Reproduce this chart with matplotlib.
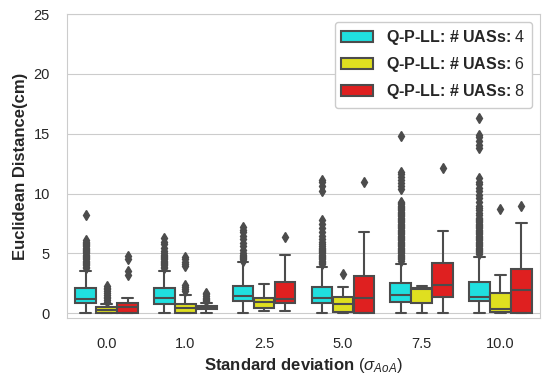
import matplotlib
matplotlib.use("Agg")
import matplotlib.pyplot as plt
import seaborn as sns
from matplotlib.patches import Patch

# x categories and hue levels
sigma_levels = ['0.0', '1.0', '2.5', '5.0', '7.5', '10.0']
uas_counts = [4, 6, 8]
box_colors = ['#20dfdf', '#dfdf20', '#df2020']

# box statistics, one list per number of UASs
med_4 = [1.19, 1.30, 1.44, 1.32, 1.55, 1.33]
q1_4 = [0.88, 0.82, 0.99, 0.85, 0.96, 1.05]
q3_4 = [2.11, 2.08, 2.28, 2.20, 2.50, 2.58]
lo_4 = [0.0, 0.0, 0.0, 0.0, 0.0, 0.0]
hi_4 = [3.50, 3.56, 4.25, 3.84, 4.12, 4.67]

med_6 = [0.27, 0.44, 0.96, 0.77, 2.00, 0.35]
q1_6 = [0.03, 0.03, 0.46, 0.15, 0.85, 0.15]
q3_6 = [0.54, 0.77, 1.32, 1.38, 2.10, 1.74]
lo_6 = [0.0, 0.0, 0.23, 0.0, 0.0, 0.0]
hi_6 = [0.82, 1.55, 2.44, 2.16, 2.25, 3.20]

med_8 = [0.57, 0.50, 1.19, 1.32, 2.36, 1.97]
q1_8 = [0.07, 0.35, 0.90, 0.02, 1.38, 0.07]
q3_8 = [0.85, 0.65, 2.64, 3.08, 4.17, 3.70]
lo_8 = [0.0, 0.05, 0.20, 0.0, 0.0, 0.0]
hi_8 = [1.27, 0.85, 4.87, 6.77, 6.90, 7.55]

# outliers
fl_4 = [
    [3.8, 3.9, 4.0, 4.1, 4.2, 4.3, 4.4, 4.5, 4.6, 4.7, 4.8, 4.9, 5.0, 5.1,
     5.2, 5.3, 5.4, 5.5, 5.6, 5.7, 5.8, 5.9, 6.0, 6.1, 8.25],
    [3.8, 3.9, 4.0, 4.1, 4.2, 4.3, 4.4, 4.5, 4.6, 4.7, 4.8, 4.9, 5.0,
     5.2, 5.5, 5.8, 6.0, 6.3],
    [4.4, 4.5, 4.6, 4.7, 4.8, 4.9, 5.0, 5.3, 5.6, 5.9, 6.2, 6.5, 6.8,
     7.0, 7.25],
    [4.1, 4.2, 4.3, 4.4, 4.5, 4.6, 4.7, 4.8, 4.9, 5.0, 5.1, 5.2, 5.3, 5.4,
     5.5, 5.6, 5.8, 6.0, 6.2, 6.5, 6.8, 7.1, 7.5, 7.8, 10.2, 10.6, 11.0,
     11.15],
    [4.35, 4.5, 4.6, 4.7, 4.8, 4.9, 5.0, 5.1, 5.2, 5.3, 5.4, 5.5, 5.6, 5.7,
     5.8, 5.9, 6.0, 6.1, 6.2, 6.3, 6.4, 6.5, 6.6, 6.7, 6.8, 6.9, 7.0, 7.1,
     7.2, 7.3, 7.4, 7.5, 7.6, 7.7, 7.8, 7.9, 8.0, 8.1, 8.2, 8.3, 8.4, 8.5,
     8.6, 8.7, 8.8, 8.9, 9.0, 9.1, 9.2, 9.3, 10.35, 10.6, 10.9, 11.1,
     11.4, 11.6, 11.8, 14.85],
    [4.95, 5.1, 5.2, 5.3, 5.4, 5.5, 5.6, 5.7, 5.8, 5.9, 6.0, 6.1, 6.2, 6.3,
     6.4, 6.5, 6.6, 6.7, 6.8, 6.9, 7.0, 7.1, 7.2, 7.3, 7.4, 7.5, 7.6, 7.7,
     7.8, 7.9, 8.0, 8.2, 8.4, 8.6, 8.8, 9.0, 9.3, 9.6, 9.9, 10.2, 10.5,
     10.8, 11.0, 11.3, 13.8, 14.1, 14.4, 14.7, 14.9, 16.3],
]
fl_6 = [
    [0.95, 1.1, 1.25, 1.4, 1.55, 1.7, 1.85, 2.0, 2.15, 2.3],
    [1.9, 2.05, 2.2, 2.35, 3.95, 4.1, 4.3, 4.5, 4.7],
    [],
    [3.28],
    [],
    [8.7],
]
fl_8 = [
    [3.2, 3.5, 4.5, 4.8],
    [1.0, 1.1, 1.2, 1.3, 1.45, 1.6, 1.7],
    [6.4],
    [10.96],
    [12.15],
    [9.0],
]

sns.set_style("whitegrid")
plt.rcParams['font.family'] = ['Liberation Sans', 'DejaVu Sans']
plt.rcParams['mathtext.fontset'] = 'custom'
plt.rcParams['mathtext.rm'] = 'Liberation Sans'
plt.rcParams['mathtext.it'] = 'Liberation Sans:italic'
plt.rcParams['mathtext.bf'] = 'Liberation Sans:bold'

fig, ax = plt.subplots(figsize=(5.42, 3.81), dpi=100)
fig.subplots_adjust(left=0.124, right=0.996, top=0.963, bottom=0.165)

gray = '#4c4c4c'
lw = 1.5
box_w = 0.8 / 3 * 0.98
series = [
    (med_4, q1_4, q3_4, lo_4, hi_4, fl_4),
    (med_6, q1_6, q3_6, lo_6, hi_6, fl_6),
    (med_8, q1_8, q3_8, lo_8, hi_8, fl_8),
]

for j, (med, q1, q3, lo, hi, fl) in enumerate(series):
    stats = []
    for i in range(len(sigma_levels)):
        stats.append({'med': med[i], 'q1': q1[i], 'q3': q3[i],
                      'whislo': lo[i], 'whishi': hi[i], 'fliers': fl[i]})
    pos = [i + (j - 1) * 0.8 / 3 for i in range(len(sigma_levels))]
    ax.bxp(stats, positions=pos, widths=box_w, patch_artist=True,
           manage_ticks=False,
           boxprops=dict(facecolor=box_colors[j], edgecolor=gray, linewidth=lw),
           whiskerprops=dict(color=gray, linewidth=lw),
           capprops=dict(color=gray, linewidth=lw),
           medianprops=dict(color=gray, linewidth=lw),
           flierprops=dict(marker='d', markerfacecolor=gray,
                           markeredgecolor=gray, markersize=5))

ax.set_xticks(range(len(sigma_levels)))
ax.set_xticklabels(sigma_levels)
ax.set_xlim(-0.5, len(sigma_levels) - 0.5)
ax.set_ylim(-0.4, 25)
ax.set_yticks([0, 5, 10, 15, 20, 25])
ax.xaxis.grid(False)
ax.tick_params(axis='x', labelsize=10.5, pad=10, colors='.15')
ax.tick_params(axis='y', labelsize=10.5, pad=9, colors='.15')

ax.set_ylabel('Euclidean Distance(cm)', fontsize=12, fontweight='bold')
ax.set_xlabel(r'Standard deviation $(\sigma_{AoA})$', fontsize=12,
              fontweight='bold', labelpad=4)

# bold prefix, regular number (mathtext rm ignores the bold weight)
handles = [Patch(facecolor=c, edgecolor=gray, linewidth=lw) for c in box_colors]
labels = ['Q-P-LL: # UASs: $\\mathrm{%d}$' % n for n in uas_counts]
ax.legend(handles, labels, loc='upper right', frameon=True,
          prop={'size': 11.5, 'weight': 'bold'},
          edgecolor='.8', framealpha=1)

fig.savefig('out.png', dpi=100)
